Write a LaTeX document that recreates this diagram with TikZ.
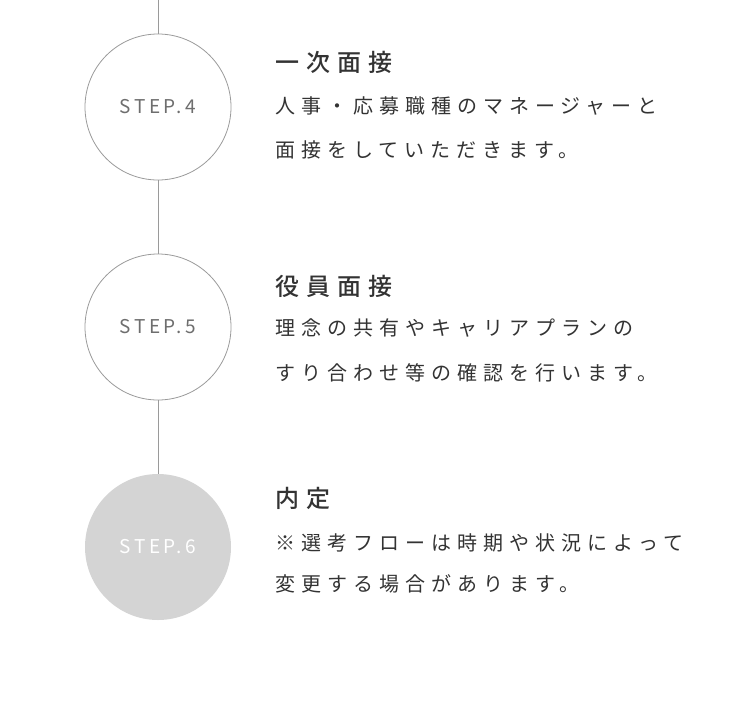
\documentclass[tikz,border=0pt]{standalone}
\usepackage{fontspec}
\setmainfont{Noto Sans CJK JP}
\newfontfamily\stepfont[LetterSpace=18]{Noto Sans CJK JP}
\newfontfamily\bodyfont[LetterSpace=30]{Noto Sans CJK JP}
\newfontfamily\titlefont[LetterSpace=30]{Noto Sans CJK JP Medium}
\definecolor{linegray}{HTML}{9A9A9A}
\definecolor{txtgray}{HTML}{6E6E6E}
\definecolor{dark}{HTML}{333333}
\definecolor{fillgray}{HTML}{D4D4D4}
\tikzset{
  stepc/.style={circle,draw=linegray,line width=0.8pt,minimum size=146pt,inner sep=0pt,fill=white,font=\stepfont\fontsize{19pt}{19pt}\selectfont,text=txtgray},
  stepdone/.style={stepc,draw=none,fill=fillgray,text=white},
  ttl/.style={anchor=west,inner sep=0pt,font=\titlefont\fontsize{24pt}{24pt}\selectfont,text=dark},
  bdy/.style={anchor=west,inner sep=0pt,font=\bodyfont\fontsize{20pt}{20pt}\selectfont,text=dark},
  conn/.style={draw=linegray,line width=0.8pt}
}
\begin{document}
\begin{tikzpicture}[x=1pt,y=-1pt]
\useasboundingbox (0,0) rectangle (750,713);
\coordinate (top) at (158,0);
\node[stepc] (s4) at (158,107) {STEP.4};
\node[stepc] (s5) at (158,327) {STEP.5};
\node[stepdone] (s6) at (158,547) {STEP.6};
\draw[conn] (top) -- (s4.north);
\draw[conn] (s4.south) -- (s5.north);
\draw[conn] (s5.south) -- (s6.north);
\node[ttl] (t4) at (275,62) {一次面接};
\node[bdy] (b4a) at (275,106) {人事・応募職種のマネージャーと};
\node[bdy] (b4b) at (275,150) {面接をしていただきます。};
\node[ttl] (t5) at (275,286) {役員面接};
\node[bdy] (b5a) at (275,328) {理念の共有やキャリアプランの};
\node[bdy] (b5b) at (275,373) {すり合わせ等の確認を行います。};
\node[ttl] (t6) at (275,498) {内定};
\node[bdy] (b6a) at (275,543) {※選考フローは時期や状況によって};
\node[bdy] (b6b) at (275,584) {変更する場合があります。};
\end{tikzpicture}
\end{document}
